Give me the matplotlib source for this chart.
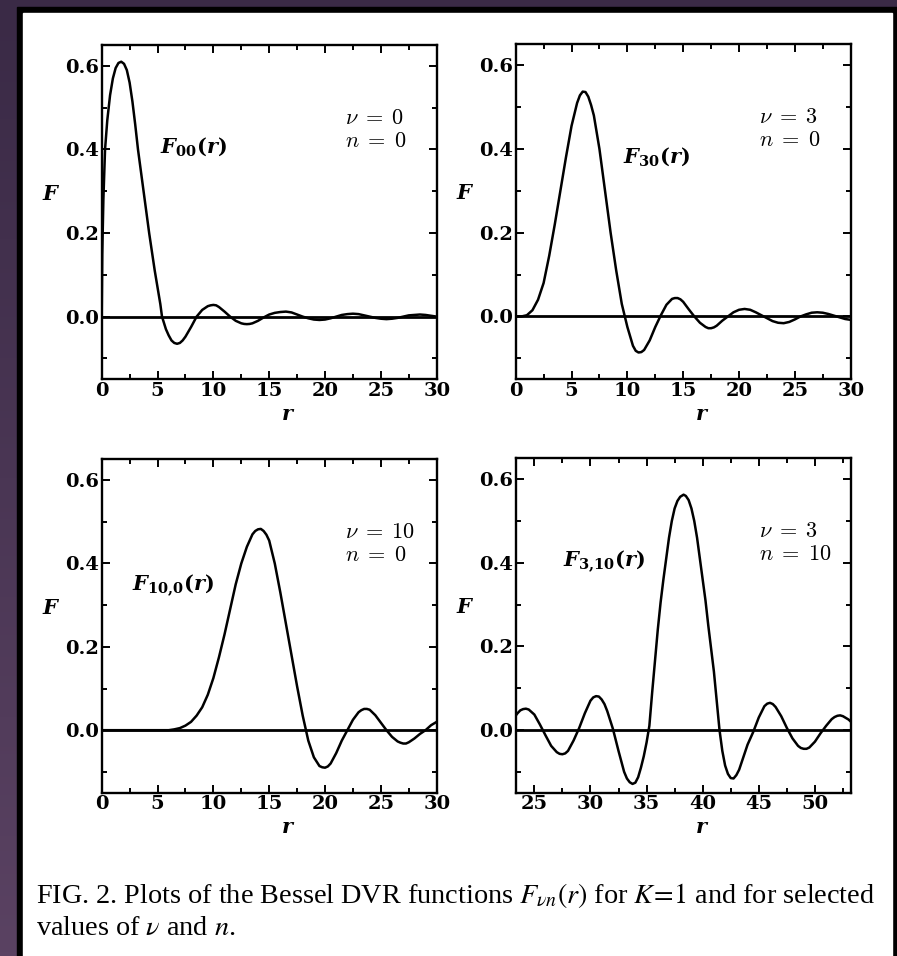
import numpy as np
import matplotlib.pyplot as plt
from matplotlib.colors import LinearSegmentedColormap
from matplotlib.patches import Rectangle
from matplotlib.ticker import MultipleLocator

# values
r00 = [0.0, 0.05, 0.15, 0.3, 0.5, 0.75, 1.0, 1.25, 1.5, 1.75, 2.0, 2.25, 2.5, 2.75, 3.0, 3.25,
       3.5, 3.75, 4.0, 4.25, 4.5, 4.75, 5.0, 5.25, 5.4, 5.75, 6.0, 6.25, 6.5, 6.75, 7.0, 7.25,
       7.5, 8.0, 8.5, 9.0, 9.5, 9.75, 10.0, 10.25, 10.5, 11.0, 11.5, 12.0, 12.5, 12.75, 13.0,
       13.25, 13.5, 14.0, 14.5, 15.0, 15.5, 16.0, 16.5, 17.0, 17.5, 18.0, 18.5, 19.0, 19.5,
       20.0, 20.5, 21.0, 21.5, 22.0, 22.5, 23.0, 23.5, 24.0, 24.5, 25.0, 25.5, 26.0, 26.5,
       27.0, 27.5, 28.0, 28.5, 29.0, 29.5, 30.0]
f00 = [0.0, 0.15, 0.28, 0.40, 0.47, 0.53, 0.57, 0.595, 0.607, 0.61, 0.605, 0.59, 0.56, 0.515,
       0.46, 0.40, 0.35, 0.30, 0.25, 0.20, 0.155, 0.11, 0.07, 0.03, 0.0, -0.03, -0.045, -0.057,
       -0.063, -0.065, -0.063, -0.057, -0.048, -0.025, 0.0, 0.016, 0.025, 0.027, 0.028, 0.027,
       0.023, 0.012, 0.0, -0.01, -0.016, -0.0175, -0.018, -0.0175, -0.016, -0.01, -0.002, 0.005,
       0.009, 0.011, 0.012, 0.01, 0.005, 0.0, -0.004, -0.007, -0.008, -0.007, -0.004, 0.0,
       0.004, 0.006, 0.007, 0.006, 0.003, 0.0, -0.003, -0.005, -0.006, -0.005, -0.003, 0.0,
       0.003, 0.004, 0.005, 0.004, 0.002, 0.0]

r30 = [0.0, 0.5, 1.0, 1.5, 2.0, 2.5, 3.0, 3.5, 4.0, 4.5, 5.0, 5.5, 5.75, 6.0, 6.25, 6.5, 6.75,
       7.0, 7.5, 8.0, 8.5, 9.0, 9.5, 10.0, 10.5, 10.75, 11.0, 11.25, 11.5, 12.0, 12.5, 13.0,
       13.5, 14.0, 14.25, 14.5, 14.75, 15.0, 15.5, 16.0, 16.5, 17.0, 17.25, 17.5, 17.75, 18.0,
       18.5, 19.0, 19.5, 20.0, 20.5, 21.0, 21.5, 22.0, 22.5, 23.0, 23.5, 24.0, 24.5, 25.0,
       25.5, 26.0, 26.5, 27.0, 27.5, 28.0, 28.5, 29.0, 29.5, 30.0]
f30 = [0.0, 0.0, 0.003, 0.015, 0.04, 0.08, 0.145, 0.22, 0.30, 0.38, 0.455, 0.51, 0.528, 0.537,
       0.536, 0.525, 0.505, 0.48, 0.40, 0.30, 0.20, 0.11, 0.03, -0.025, -0.07, -0.082, -0.086,
       -0.085, -0.08, -0.057, -0.025, 0.003, 0.028, 0.042, 0.044, 0.044, 0.041, 0.035, 0.017,
       0.0, -0.015, -0.025, -0.028, -0.028, -0.026, -0.022, -0.01, 0.0, 0.01, 0.016, 0.018,
       0.016, 0.01, 0.003, -0.004, -0.011, -0.015, -0.016, -0.013, -0.007, 0.0, 0.005, 0.009,
       0.01, 0.009, 0.006, 0.002, -0.002, -0.006, -0.008]

r100 = [0.0, 5.5, 6.0, 6.5, 7.0, 7.5, 8.0, 8.5, 9.0, 9.5, 10.0, 10.5, 11.0, 11.5, 12.0, 12.5,
        13.0, 13.5, 13.75, 14.0, 14.25, 14.5, 14.75, 15.0, 15.5, 16.0, 16.5, 17.0, 17.5, 18.0,
        18.5, 19.0, 19.5, 19.75, 20.0, 20.25, 20.5, 21.0, 21.5, 22.0, 22.5, 23.0, 23.25, 23.5,
        23.75, 24.0, 24.5, 25.0, 25.5, 26.0, 26.5, 26.75, 27.0, 27.25, 27.5, 28.0, 28.5, 29.0,
        29.5, 30.0]
f100 = [0.0, 0.0, 0.0, 0.002, 0.005, 0.011, 0.02, 0.035, 0.055, 0.085, 0.125, 0.175, 0.23, 0.29,
        0.35, 0.40, 0.44, 0.47, 0.478, 0.482, 0.483, 0.478, 0.469, 0.455, 0.40, 0.33, 0.255,
        0.18, 0.105, 0.035, -0.025, -0.065, -0.086, -0.089, -0.09, -0.087, -0.08, -0.055,
        -0.025, 0.0, 0.025, 0.043, 0.048, 0.051, 0.051, 0.049, 0.036, 0.018, 0.0, -0.016,
        -0.027, -0.030, -0.032, -0.032, -0.029, -0.02, -0.009, 0.0, 0.012, 0.02]

r310 = [23.3, 23.5, 23.75, 24.0, 24.25, 24.5, 25.0, 25.5, 26.0, 26.5, 27.0, 27.25, 27.5, 27.75,
        28.0, 28.5, 29.0, 29.5, 30.0, 30.25, 30.5, 30.75, 31.0, 31.25, 31.5, 32.0, 32.5, 33.0,
        33.25, 33.5, 33.75, 34.0, 34.25, 34.5, 34.75, 35.0, 35.25, 35.5, 35.75, 36.0, 36.25,
        36.5, 36.75, 37.0, 37.25, 37.5, 37.75, 38.0, 38.3, 38.5, 38.75, 39.0, 39.25, 39.5,
        39.75, 40.0, 40.25, 40.5, 40.75, 41.0, 41.25, 41.5, 41.75, 42.0, 42.25, 42.5, 42.75,
        43.0, 43.25, 43.5, 44.0, 44.5, 45.0, 45.5, 45.75, 46.0, 46.25, 46.5, 47.0, 47.5, 48.0,
        48.5, 48.75, 49.0, 49.25, 49.5, 50.0, 50.5, 51.0, 51.5, 51.75, 52.0, 52.25, 52.5, 53.0,
        53.2]
f310 = [0.033, 0.04, 0.047, 0.05, 0.051, 0.049, 0.037, 0.013, -0.013, -0.038, -0.053, -0.057,
        -0.058, -0.056, -0.05, -0.025, 0.005, 0.04, 0.07, 0.078, 0.081, 0.08, 0.073, 0.062,
        0.045, 0.003, -0.05, -0.1, -0.116, -0.125, -0.129, -0.126, -0.113, -0.09, -0.063, -0.03,
        0.01, 0.09, 0.165, 0.24, 0.305, 0.36, 0.41, 0.46, 0.50, 0.53, 0.548, 0.558, 0.563,
        0.56, 0.55, 0.53, 0.50, 0.46, 0.41, 0.36, 0.31, 0.25, 0.195, 0.14, 0.07, 0.0, -0.05,
        -0.085, -0.105, -0.115, -0.116, -0.108, -0.095, -0.075, -0.035, -0.005, 0.03, 0.057,
        0.063, 0.065, 0.062, 0.055, 0.033, 0.005, -0.02, -0.038, -0.043, -0.045, -0.045,
        -0.042, -0.028, -0.008, 0.01, 0.026, 0.031, 0.034, 0.035, 0.033, 0.025, 0.02]

W, H = 897, 956
plt.rcParams['mathtext.fontset'] = 'custom'
plt.rcParams['mathtext.it'] = 'DejaVu Serif:italic:bold'
plt.rcParams['mathtext.rm'] = 'DejaVu Serif:bold'
plt.rcParams['mathtext.bf'] = 'DejaVu Serif:bold'

fig = plt.figure(figsize=(W / 100, H / 100), dpi=100)

# purple backdrop + framed white page
bg = fig.add_axes([0, 0, 1, 1], zorder=-10)
cmap = LinearSegmentedColormap.from_list('bg', ['#3a2a46', '#5a4262'])
bg.imshow(np.linspace(0, 1, 256).reshape(-1, 1), cmap=cmap, aspect='auto',
          extent=[0, W, H, 0])
bg.add_patch(Rectangle((17, 7), W - 17, H, color='black'))
bg.add_patch(Rectangle((23, 12.7), 869, H, color='white'))
bg.set_xlim(0, W)
bg.set_ylim(H, 0)
bg.axis('off')

def px_axes(left, top, right, bottom):
    return fig.add_axes([left / W, 1 - bottom / H, (right - left) / W, (bottom - top) / H])

panels = [
    (px_axes(101.7, 45, 436.7, 379.3), r00, f00, (0, 30), r'$F_{00}(r)$', (0.174, 0.696), '0', '0'),
    (px_axes(515.7, 44.3, 850.7, 379.3), r30, f30, (0, 30), r'$F_{30}(r)$', (0.32, 0.664), '3', '0'),
    (px_axes(101.7, 459.3, 436.7, 792.7), r100, f100, (0, 30), r'$F_{10{,}0}(r)$', (0.09, 0.62), '10', '0'),
    (px_axes(515.7, 458.3, 850.7, 792.7), r310, f310, (23.34, 53.19), r'$F_{3{,}10}(r)$', (0.141, 0.689), '3', '10'),
]

for ax, r, f, xlim, name, pos, nu, n in panels:
    ax.axhline(0, color='black', lw=2.0)
    ax.plot(r, f, color='black', lw=1.8, solid_joinstyle='round')
    ax.set_xlim(*xlim)
    ax.set_ylim(-0.15, 0.65)
    ax.xaxis.set_major_locator(MultipleLocator(5))
    ax.xaxis.set_minor_locator(MultipleLocator(2.5))
    ax.yaxis.set_minor_locator(MultipleLocator(0.1))
    ax.set_yticks([0.0, 0.2, 0.4, 0.6])
    ax.set_yticklabels(['0.0', '0.2', '0.4', '0.6'])
    ax.tick_params(which='both', direction='in', top=True, right=True, width=1.4)
    ax.tick_params(which='major', length=6, labelsize=14, pad=2)
    ax.tick_params(which='minor', length=3.5)
    for lab in ax.get_xticklabels() + ax.get_yticklabels():
        lab.set_family('DejaVu Serif')
        lab.set_weight('bold')
    for sp in ax.spines.values():
        sp.set_linewidth(1.7)
    ax.text(pos[0], pos[1], name, transform=ax.transAxes, fontsize=15, va='center', ha='left')
    ax.text(0.727, 0.783, r'$\nu\;=\;%s$' % nu, transform=ax.transAxes, fontsize=16,
            va='center', ha='left', math_fontfamily='cm')
    ax.text(0.727, 0.714, r'$n\;=\;%s$' % n, transform=ax.transAxes, fontsize=16,
            va='center', ha='left', math_fontfamily='cm')
    ax.text(-0.151, 0.555, r'$F$', transform=ax.transAxes, fontsize=15, va='center', ha='center')
    ax.text(0.556, -0.104, r'$r$', transform=ax.transAxes, fontsize=15, va='center', ha='center')

fig.text(35.5 / W, 1 - 902.7 / H,
         r'FIG. 2. Plots of the Bessel DVR functions $F_{\nu n}(r)$ for $K\!=\!1$ and for selected',
         family='Liberation Serif', fontsize=20.3, va='baseline', ha='left', math_fontfamily='stix')
fig.text(35.5 / W, 1 - 935 / H, r'values of $\nu$ and $n$.',
         family='Liberation Serif', fontsize=20.3, va='baseline', ha='left', math_fontfamily='stix')

fig.savefig('out.png', dpi=100)
